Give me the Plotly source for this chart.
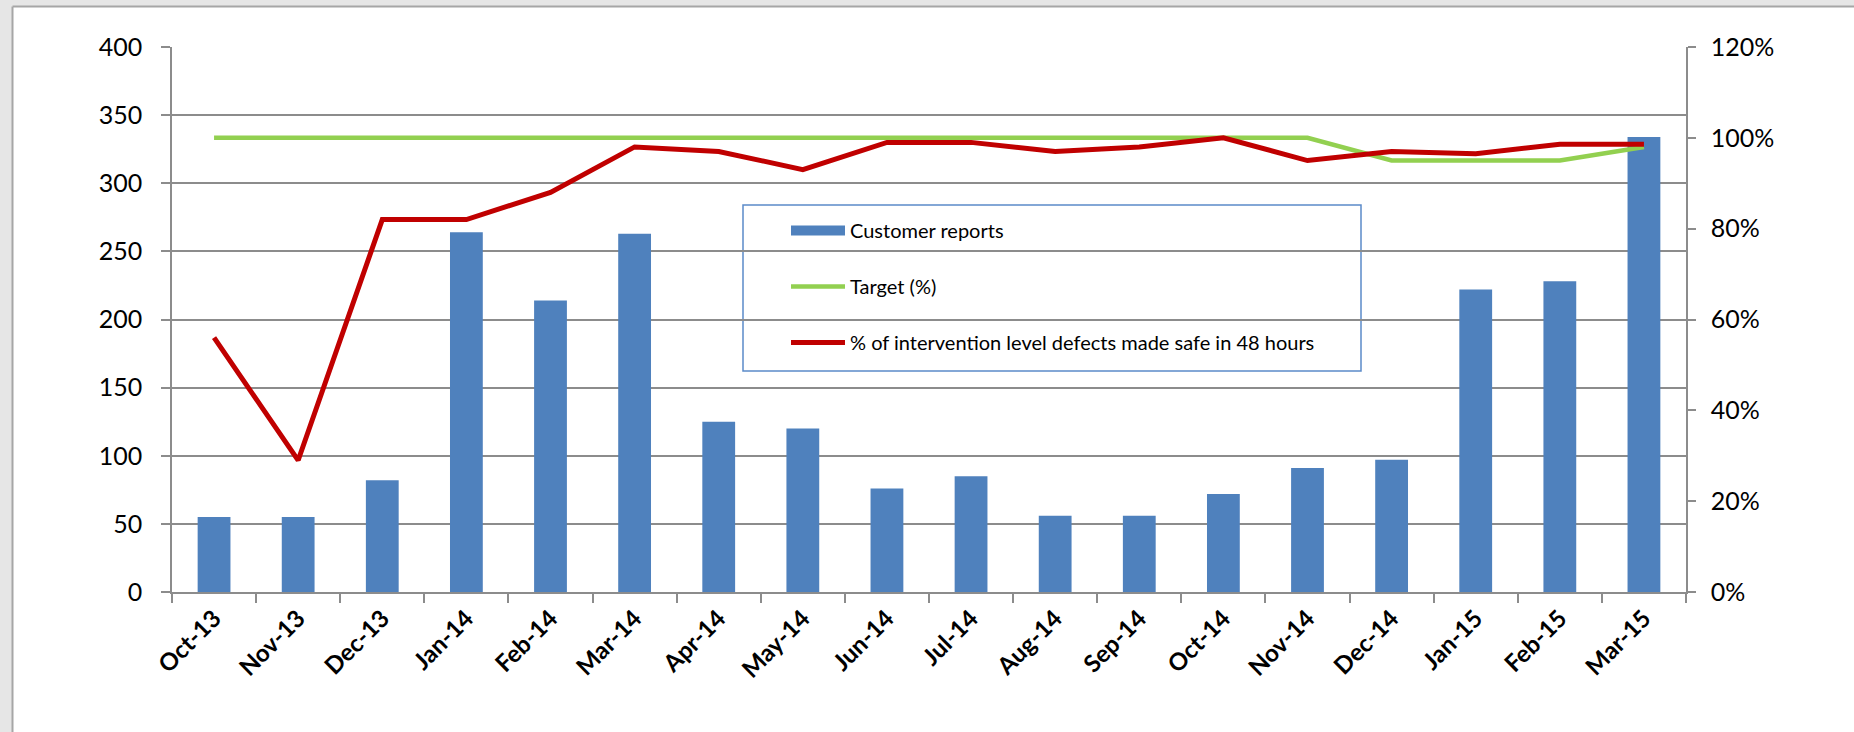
import plotly.graph_objects as go

# monthly data
months = ["Oct-13", "Nov-13", "Dec-13", "Jan-14", "Feb-14", "Mar-14", "Apr-14", "May-14", "Jun-14",
          "Jul-14", "Aug-14", "Sep-14", "Oct-14", "Nov-14", "Dec-14", "Jan-15", "Feb-15", "Mar-15"]
customer_reports = [55, 55, 82, 264, 214, 263, 125, 120, 76, 85, 56, 56, 72, 91, 97, 222, 228, 334]
target_pct = [1.00, 1.00, 1.00, 1.00, 1.00, 1.00, 1.00, 1.00, 1.00,
              1.00, 1.00, 1.00, 1.00, 1.00, 0.95, 0.95, 0.95, 0.98]
made_safe_pct = [0.56, 0.29, 0.82, 0.82, 0.88, 0.98, 0.97, 0.93, 0.99,
                 0.99, 0.97, 0.98, 1.00, 0.95, 0.97, 0.965, 0.986, 0.986]

BLUE = "#4F81BD"
GREEN = "#92D050"
RED = "#C00000"
GRID = "#8C8C8C"
FONT = "Lato"

W, H = 1854, 732
ML, MR, MT, MB = 172, 168, 47, 140
PW, PH = W - ML - MR, H - MT - MB


def px_x(p):
    return (p - ML) / PW


def px_y(p):
    return (H - MB - p) / PH


fig = go.Figure()

fig.add_trace(go.Bar(
    x=months, y=customer_reports, name="Customer reports",
    marker=dict(color=BLUE, line=dict(width=0)),
    showlegend=False, yaxis="y"))

# legend stand-in for the bars (wide swatch like the original)
fig.add_trace(go.Scatter(
    x=[months[0]], y=[None], mode="lines", name="Customer reports",
    line=dict(color=BLUE, width=12), legendgroup="a", yaxis="y"))

fig.add_trace(go.Scatter(
    x=months, y=target_pct, mode="lines", name="Target (%)",
    line=dict(color=GREEN, width=4.5), legendgroup="b", yaxis="y2"))

fig.add_trace(go.Scatter(
    x=months, y=made_safe_pct, mode="lines",
    name="% of intervention level defects made safe in 48 hours",
    line=dict(color=RED, width=5), legendgroup="c", yaxis="y2"))

fig.update_layout(
    width=W, height=H,
    margin=dict(l=ML, r=MR, t=MT, b=MB, autoexpand=False),
    paper_bgcolor="white", plot_bgcolor="white",
    font=dict(family=FONT, color="black"),
    bargap=0.61,
    xaxis=dict(
        type="category", showline=True, linecolor=GRID, linewidth=1.5,
        ticks="outside", tickson="boundaries", ticklen=9, tickcolor=GRID, tickwidth=1.5,
        tickangle=-45, tickfont=dict(family=FONT, size=24, weight="bold"),
        ticklabelstandoff=1, showgrid=False, mirror=False),
    yaxis=dict(
        range=[0, 400], dtick=50, showline=True, linecolor=GRID, linewidth=1.5,
        ticks="outside", ticklen=9, tickcolor=GRID, tickwidth=1.5,
        showgrid=True, gridcolor=GRID, gridwidth=1.5, zeroline=False,
        tickfont=dict(size=25), ticklabelstandoff=14),
    yaxis2=dict(
        range=[0, 1.2], dtick=0.2, tickformat=".0%", overlaying="y", side="right",
        showline=True, linecolor=GRID, linewidth=1.5,
        ticks="outside", ticklen=8, tickcolor=GRID, tickwidth=1.5,
        showgrid=False, zeroline=False, tickfont=dict(size=25), ticklabelstandoff=10),
    legend=dict(
        x=px_x(786), y=px_y(211), xanchor="left", yanchor="top",
        bgcolor="rgba(0,0,0,0)", borderwidth=0, traceorder="grouped",
        tracegroupgap=27, itemwidth=54, font=dict(size=20)),
    showlegend=True,
)

# legend frame
fig.add_shape(type="rect", xref="paper", yref="paper",
              x0=px_x(743), x1=px_x(1361), y0=px_y(371), y1=px_y(205),
              line=dict(color="#5B8BC9", width=1.5), fillcolor="white", layer="between")

# outer frame of the chart window
fig.add_shape(type="rect", xref="paper", yref="paper",
              x0=px_x(0), x1=px_x(W), y0=px_y(6), y1=px_y(0),
              line=dict(width=0), fillcolor="#E6E6E6", layer="above")
fig.add_shape(type="rect", xref="paper", yref="paper",
              x0=px_x(0), x1=px_x(12), y0=px_y(H), y1=px_y(0),
              line=dict(width=0), fillcolor="#E6E6E6", layer="above")
fig.add_shape(type="line", xref="paper", yref="paper",
              x0=px_x(12.5), x1=px_x(W), y0=px_y(6.5), y1=px_y(6.5),
              line=dict(color="#A6A6A6", width=2), layer="above")
fig.add_shape(type="line", xref="paper", yref="paper",
              x0=px_x(12.5), x1=px_x(12.5), y0=px_y(H), y1=px_y(6.5),
              line=dict(color="#A6A6A6", width=2), layer="above")

# drop the browser's default body margin so the figure sits at the window corner
fig.write_html("out.html", config={"displayModeBar": False},
               post_script="document.body.style.margin='0';")
